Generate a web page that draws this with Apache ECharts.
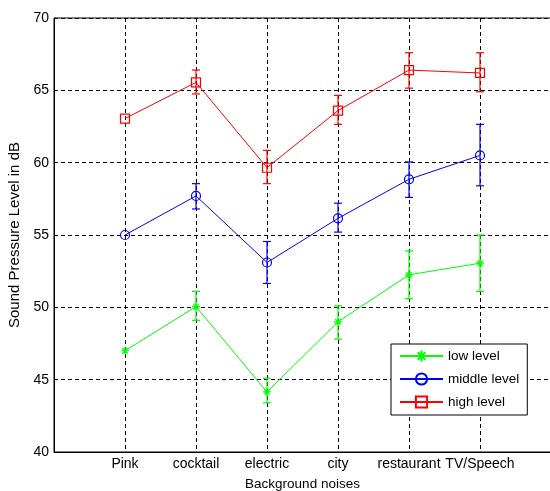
<!DOCTYPE html>
<html>
<head>
<meta charset="utf-8">
<script src="https://cdn.jsdelivr.net/npm/echarts@6/dist/echarts.min.js"></script>
<style>html,body{margin:0;padding:0;background:#fff;}#c{width:550px;height:491px;}</style>
</head>
<body>
<div id="c"></div>
<script>
const categories = ['Pink', 'cocktail', 'electric', 'city', 'restaurant', 'TV/Speech'];
const yTicks = [40, 45, 50, 55, 60, 65, 70];

const lowMean = [47.0, 50.05, 44.15, 49.0, 52.25, 53.05];
const lowLo   = [47.0, 49.1, 43.4, 47.8, 50.6, 51.1];
const lowHi   = [47.0, 51.1, 45.1, 50.1, 53.9, 55.0];

const midMean = [55.0, 57.7, 53.1, 56.15, 58.85, 60.5];
const midLo   = [55.0, 56.8, 51.65, 55.2, 57.6, 58.4];
const midHi   = [55.0, 58.55, 54.55, 57.2, 60.05, 62.65];

const highMean = [63.05, 65.55, 59.65, 63.6, 66.4, 66.2];
const highLo   = [63.05, 64.75, 58.55, 62.65, 65.15, 64.9];
const highHi   = [63.05, 66.4, 60.85, 64.65, 67.6, 67.6];

const FONT = '"Liberation Sans", Arial, sans-serif';
const star = 'path://M5,0L5,10M0,5L10,5M1.6,1.6L8.4,8.4M8.4,1.6L1.6,8.4';

function pts(arr) { return arr.map((v, i) => [i + 1, v]); }
function errData(lo, hi) { return lo.map((v, i) => [i + 1, v, hi[i]]); }

function errSeries(lo, hi, color) {
  return {
    type: 'custom',
    silent: true,
    z: 3,
    data: errData(lo, hi),
    encode: { x: 0, y: [1, 2] },
    renderItem: function (params, api) {
      const a = api.coord([api.value(0), api.value(1)]);
      const b = api.coord([api.value(0), api.value(2)]);
      if (Math.abs(a[1] - b[1]) < 0.5) return null;
      const w = 4;
      const st = { stroke: color, lineWidth: 1.2 };
      return {
        type: 'group',
        children: [
          { type: 'line', shape: { x1: a[0], y1: a[1], x2: b[0], y2: b[1] }, style: st },
          { type: 'line', shape: { x1: a[0] - w, y1: a[1], x2: a[0] + w, y2: a[1] }, style: st },
          { type: 'line', shape: { x1: b[0] - w, y1: b[1], x2: b[0] + w, y2: b[1] }, style: st }
        ]
      };
    }
  };
}

function lineSeries(name, data, color, symbol, size) {
  return {
    name: name,
    type: 'line',
    z: 4,
    data: pts(data),
    symbol: symbol,
    symbolSize: size,
    showSymbol: true,
    animation: false,
    lineStyle: { color: color, width: 1 },
    itemStyle: { color: 'rgba(0,0,0,0)', borderColor: color, borderWidth: 1.2 }
  };
}

const chart = echarts.init(document.getElementById('c'), null, { renderer: 'canvas' });
chart.setOption({
  animation: false,
  backgroundColor: '#fff',
  textStyle: { fontFamily: FONT },
  grid: { left: 54, top: 18, width: 497, height: 434, outerBoundsMode: 'none', containLabel: false, show: true, borderColor: '#000', borderWidth: 1, backgroundColor: 'transparent' },
  xAxis: {
    type: 'value', min: 0, max: 7, interval: 1,
    name: 'Background noises', nameLocation: 'middle', nameGap: 25,
    nameTextStyle: { color: '#000', fontSize: 13.5, fontFamily: FONT },
    axisLine: { show: true, onZero: false, lineStyle: { color: '#000', width: 1 } },
    axisTick: { show: false },
    axisLabel: {
      color: '#000', fontSize: 14, fontFamily: FONT, margin: 5,
      formatter: function (v) { return (v >= 1 && v <= 6) ? categories[v - 1] : ''; }
    },
    splitLine: { show: true, lineStyle: { color: '#000', type: [4, 3], width: 1 } }
  },
  yAxis: {
    type: 'value', min: yTicks[0], max: yTicks[yTicks.length - 1], interval: 5,
    name: 'Sound Pressure Level in dB', nameLocation: 'middle', nameGap: 27,
    nameTextStyle: { color: '#000', fontSize: 15, fontFamily: FONT },
    axisLine: { show: true, lineStyle: { color: '#000', width: 1 } },
    axisTick: { show: false },
    axisLabel: { color: '#000', fontSize: 14, fontFamily: FONT, margin: 5 },
    splitLine: { show: true, lineStyle: { color: '#000', type: [4, 3], width: 1 } }
  },
  legend: {
    show: true,
    orient: 'vertical',
    left: 391, top: 344,
    padding: [5, 8, 6, 8],
    itemWidth: 43, itemHeight: 14, itemGap: 9,
    backgroundColor: '#fff',
    borderColor: '#000', borderWidth: 1, borderRadius: 0,
    textStyle: { color: '#000', fontSize: 13.5, fontFamily: FONT },
    data: ['low level', 'middle level', 'high level']
  },
  series: [
    errSeries(lowLo, lowHi, '#00ff00'),
    errSeries(midLo, midHi, '#0000ff'),
    errSeries(highLo, highHi, '#ff0000'),
    lineSeries('low level', lowMean, '#00ff00', star, 8),
    lineSeries('middle level', midMean, '#0000ff', 'circle', 9),
    lineSeries('high level', highMean, '#ff0000', 'rect', 9)
  ]
});
</script>
</body>
</html>
